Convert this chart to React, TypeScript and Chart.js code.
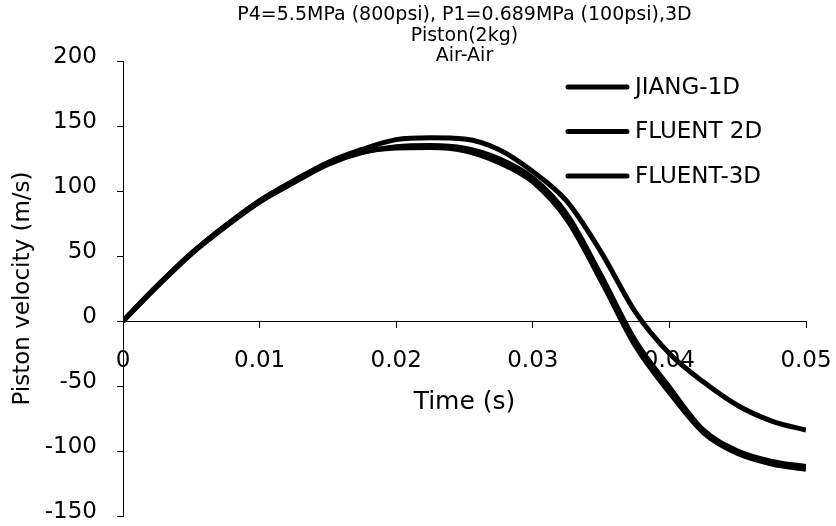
import React, { useEffect, useRef } from "react";
import { Chart, registerables } from "chart.js";

Chart.register(...registerables);

const FONT = "'DejaVu Sans', sans-serif";

const times = [0, 0.0025, 0.005, 0.0075, 0.01, 0.0125, 0.015, 0.0175, 0.02, 0.0225, 0.025, 0.0275, 0.03, 0.0325, 0.035, 0.0375, 0.04, 0.0425, 0.045, 0.0475, 0.05];
const jiang1D = [0, 27, 52, 73.5, 92.5, 107.5, 121, 130, 133, 133.5, 131, 122, 107, 78, 31, -19, -55, -86, -102, -110, -114];
const fluent2D = [0, 27, 52, 73, 92.5, 108, 122, 132, 139.5, 141, 140, 132, 115, 92, 53, 7, -25, -47, -65, -77, -84];
const fluent3D = [0, 26.5, 51.5, 72.5, 91.5, 106.5, 120.5, 129.5, 134, 135, 133, 125, 110, 82, 35, -15, -51, -84, -100, -108, -112];

const seriesNames = ["JIANG-1D", "FLUENT 2D", "FLUENT-3D"];
const titleLines = ["P4=5.5MPa (800psi), P1=0.689MPa (100psi),3D", "Piston(2kg)", "Air-Air"];
const xTicks = [0, 0.01, 0.02, 0.03, 0.04, 0.05];
const yTicks = [-150, -100, -50, 0, 50, 100, 150, 200];
const xTitle = "Time (s)";
const yTitle = "Piston velocity (m/s)";

const legendPlugin = {
  id: "customLegend",
  afterDraw(chart: any) {
    const ctx = chart.ctx;
    const { right, top } = chart.chartArea;
    ctx.save();
    chart.data.datasets.forEach((ds: any, i: number) => {
      const y = top + 26 + i * 44.5;
      ctx.strokeStyle = "#000";
      ctx.lineWidth = ds.borderWidth;
      ctx.lineCap = "round";
      ctx.beginPath();
      ctx.moveTo(right - 238, y);
      ctx.lineTo(right - 179, y);
      ctx.stroke();
      ctx.font = `23px ${FONT}`;
      ctx.textBaseline = "middle";
      ctx.textAlign = "left";
      ctx.fillStyle = "#000";
      ctx.fillText(ds.label, right - 171, y + 1);
    });
    ctx.restore();
  },
};

export default function App() {
  const canvasRef = useRef<HTMLCanvasElement | null>(null);

  useEffect(() => {
    const canvas = canvasRef.current;
    if (!canvas) return;
    const series = [jiang1D, fluent2D, fluent3D];
    const widths = [5, 5, 5];
    const chart = new Chart(canvas, {
      type: "line",
      data: {
        datasets: series.map((vals, si) => ({
          label: seriesNames[si],
          data: times.map((t, i) => ({ x: t, y: vals[i] })),
          borderColor: "#000",
          backgroundColor: "#000",
          borderWidth: widths[si],
          pointRadius: 0,
          fill: false,
          cubicInterpolationMode: "monotone" as const,
        })),
      },
      options: {
        responsive: false,
        animation: false,
        devicePixelRatio: 1,
        layout: { padding: { left: 0, right: 30, top: 0, bottom: 10 } },
        plugins: {
          legend: { display: false },
          tooltip: { enabled: false },
          title: {
            display: true,
            fullSize: false,
            text: titleLines,
            color: "#000",
            font: { family: FONT, size: 19, weight: "normal", lineHeight: "20.5px" },
            padding: { top: 5, bottom: -5.5 },
          },
        },
        scales: {
          x: {
            type: "linear",
            min: 0,
            max: 0.05,
            position: { y: 0 } as any,
            afterFit: (s: any) => {
              s.height = 0;
              s.paddingLeft = 0;
              s.paddingRight = 0;
            },
            afterBuildTicks: (s: any) => {
              s.ticks = xTicks.map((v) => ({ value: v }));
            },
            ticks: {
              color: "#000",
              font: { family: FONT, size: 23 },
              padding: 20,
              maxRotation: 0,
              autoSkip: false,
              callback: (v: any) => String(+Number(v).toFixed(3)),
            },
            grid: { display: true, drawOnChartArea: false, drawTicks: true, tickLength: 6, color: "#000", lineWidth: 1 },
            border: { display: true, color: "#000", width: 1 },
            title: {
              display: true,
              text: xTitle,
              color: "#000",
              font: { family: FONT, size: 25 },
              padding: { top: 0, bottom: -96 },
            },
          },
          y: {
            type: "linear",
            min: -150,
            max: 200,
            afterFit: (s: any) => {
              s.width = 123;
              s.paddingTop = 0;
              s.paddingBottom = 0;
            },
            afterBuildTicks: (s: any) => {
              s.ticks = yTicks.map((v) => ({ value: v }));
            },
            ticks: {
              color: "#000",
              font: { family: FONT, size: 23 },
              padding: 20,
              labelOffset: -4,
              autoSkip: false,
            },
            grid: { display: true, drawOnChartArea: false, drawTicks: true, tickLength: 6, color: "#000", lineWidth: 1 },
            border: { display: true, color: "#000", width: 1 },
            title: {
              display: true,
              text: yTitle,
              color: "#000",
              font: { family: FONT, size: 23 },
              padding: { top: 9, bottom: 0 },
            },
          },
        },
      },
      plugins: [legendPlugin],
    } as any);
    return () => chart.destroy();
  }, []);

  return (
    <div style={{ position: "fixed", left: 0, top: 0, width: 836, height: 526, background: "#fff" }}>
      <canvas ref={canvasRef} width={836} height={526} style={{ width: 836, height: 526, display: "block" }} />
    </div>
  );
}
